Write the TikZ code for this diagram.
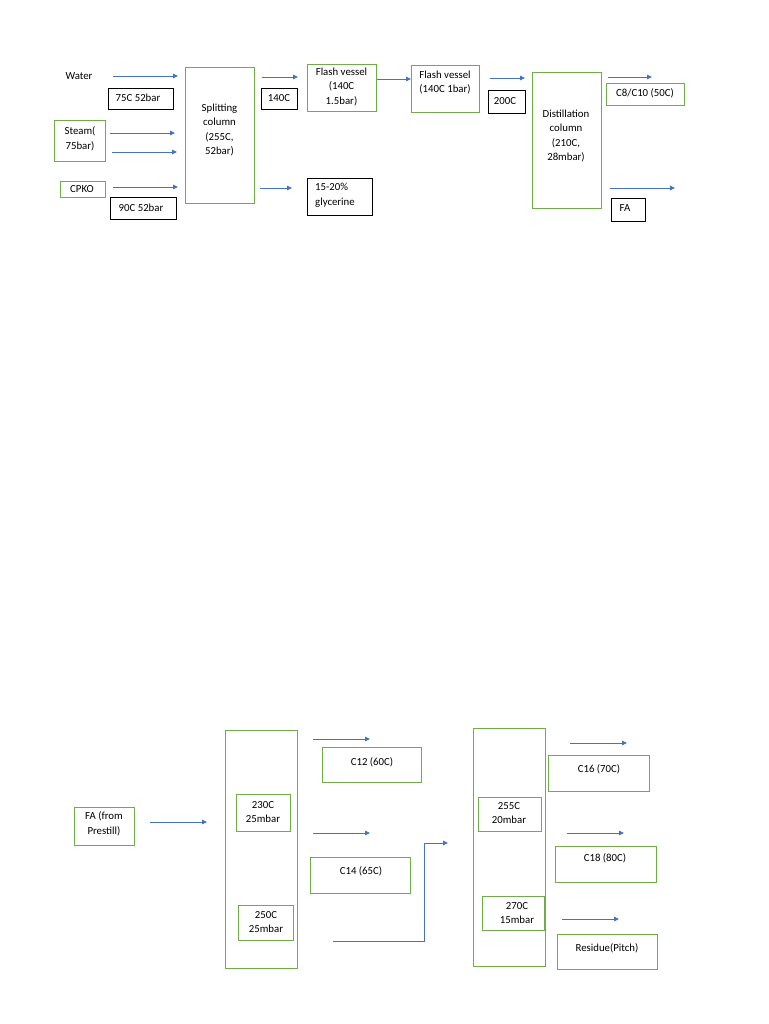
\documentclass[tikz,border=0pt]{standalone}
\usepackage{fontspec}
\setmainfont{Carlito}
\usetikzlibrary{arrows.meta}
\definecolor{boxgreen}{HTML}{70AD47}
\definecolor{arrblue}{HTML}{4472C4}
\begin{document}
\begin{tikzpicture}[x=1pt,y=-1pt,
  gbox/.style={draw=boxgreen,line width=1.1pt,anchor=north west,inner sep=0pt},
  bbox/.style={draw=black,line width=1.1pt,anchor=north west,inner sep=0pt},
  txt/.style={font=\fontsize{10.8}{14.5}\selectfont,align=center,inner sep=0pt},
  arr/.style={draw=arrblue,line width=0.9pt,-{Triangle[length=5pt,width=4.5pt]}},
  flow/.style={draw=arrblue,line width=0.9pt}]
\useasboundingbox (0,0) rectangle (768,1024);
% ---------- top: boxes ----------
\node[bbox,minimum width=65pt,minimum height=21pt] (b75) at (108,88) {};
\node[gbox,minimum width=51pt,minimum height=41pt] (steam) at (54,120) {};
\node[gbox,minimum width=45pt,minimum height=16pt] (cpko) at (60,181) {};
\node[bbox,minimum width=66pt,minimum height=22pt] (b90) at (110,197) {};
\node[gbox,minimum width=69pt,minimum height=136pt] (split) at (185,67) {};
\node[bbox,minimum width=36pt,minimum height=21pt] (b140) at (261,88) {};
\node[bbox,minimum width=65pt,minimum height=37pt] (glyc) at (307,178) {};
\node[gbox,minimum width=69pt,minimum height=47pt] (fv1) at (307,64) {};
\node[gbox,minimum width=68pt,minimum height=47pt] (fv2) at (411,65) {};
\node[bbox,minimum width=37pt,minimum height=23pt] (b200) at (488,90) {};
\node[gbox,minimum width=69pt,minimum height=136pt] (dist) at (532,72) {};
\node[gbox,minimum width=78pt,minimum height=22pt] (c810) at (606,83) {};
\node[bbox,minimum width=34pt,minimum height=23pt] (fa) at (611,198) {};
% ---------- top: texts ----------
\node[txt] (t-water) at (79,76) {Water};
\node[txt] (t-b75) at (138,98) {75C 52bar};
\node[txt] (t-steam) at (80,139) {Steam(\\75bar)};
\node[txt] (t-cpko) at (82,189) {CPKO};
\node[txt] (t-b90) at (141,208) {90C 52bar};
\node[txt] (t-split) at (219.5,130) {Splitting\\column\\(255C,\\52bar)};
\node[txt] (t-b140) at (279,98) {140C};
\node[txt,align=left,anchor=west] (t-glyc) at (315,195) {15-20\%\\glycerine};
\node[txt] (t-fv1) at (341.5,87) {Flash vessel\\(140C\\1.5bar)};
\node[txt] (t-fv2) at (445,82.5) {Flash vessel\\(140C 1bar)};
\node[txt] (t-b200) at (505,101) {200C};
\node[txt] (t-dist) at (566,136) {Distillation\\column\\(210C,\\28mbar)};
\node[txt] (t-c810) at (645,93) {C8/C10 (50C)};
\node[txt] (t-fa) at (625,208) {FA};
% ---------- top: arrows ----------
\coordinate (w1) at (113,76); \coordinate (w2) at (178,76);
\coordinate (s1) at (110,133); \coordinate (s2) at (175,133);
\coordinate (s3) at (112,152); \coordinate (s4) at (177,152);
\coordinate (k1) at (113,187); \coordinate (k2) at (178,187);
\coordinate (o1) at (262,77); \coordinate (o2) at (298,77);
\coordinate (g1) at (260,188); \coordinate (g2) at (292,188);
\coordinate (f1) at (490,78); \coordinate (f2) at (525,78);
\coordinate (d1) at (608,77); \coordinate (d2) at (652,77);
\coordinate (d3) at (610,188); \coordinate (d4) at (675,188);
\draw[arr] (w1) -- (w2);
\draw[arr] (s1) -- (s2);
\draw[arr] (s3) -- (s4);
\draw[arr] (k1) -- (k2);
\draw[arr] (o1) -- (o2);
\draw[arr] (g1) -- (g2);
\draw[arr] (fv1.east |- 0,79) -- (fv2.west |- 0,79);
\draw[arr] (f1) -- (f2);
\draw[arr] (d1) -- (d2);
\draw[arr] (d3) -- (d4);
% ---------- bottom: boxes ----------
\node[gbox,minimum width=60pt,minimum height=38pt] (prestill) at (74,807) {};
\node[gbox,minimum width=72pt,minimum height=238pt] (colA) at (225,730) {};
\node[gbox,minimum width=54pt,minimum height=37pt] (a230) at (236,794) {};
\node[gbox,minimum width=55pt,minimum height=35pt] (a250) at (238,905) {};
\node[gbox,minimum width=99pt,minimum height=35pt] (c12) at (322,747) {};
\node[gbox,minimum width=100pt,minimum height=36pt] (c14) at (310,857) {};
\node[gbox,minimum width=72pt,minimum height=238pt] (colB) at (473,728) {};
\node[gbox,minimum width=63pt,minimum height=34pt] (b255) at (478,797) {};
\node[gbox,minimum width=62pt,minimum height=34pt] (b270) at (482,896) {};
\node[gbox,minimum width=101pt,minimum height=36pt] (c16) at (548,755) {};
\node[gbox,minimum width=101pt,minimum height=36pt] (c18) at (555,846) {};
\node[gbox,minimum width=100pt,minimum height=35pt] (resid) at (557,934) {};
% ---------- bottom: texts ----------
\node[txt] (t-prestill) at (104,824) {FA (from\\Prestill)};
\node[txt] (t-a230) at (263,812) {230C\\25mbar};
\node[txt] (t-a250) at (266,922) {250C\\25mbar};
\node[txt] (t-c12) at (372,762) {C12 (60C)};
\node[txt] (t-c14) at (361,871) {C14 (65C)};
\node[txt] (t-b255) at (509,813) {255C\\20mbar};
\node[txt] (t-b270) at (517,913) {270C\\15mbar};
\node[txt] (t-c16) at (599,769) {C16 (70C)};
\node[txt] (t-c18) at (605,858) {C18 (80C)};
\node[txt] (t-resid) at (607,948) {Residue(Pitch)};
% ---------- bottom: arrows ----------
\coordinate (p1) at (150,822); \coordinate (p2) at (207,822);
\coordinate (m1) at (313,739); \coordinate (m2) at (370,739);
\coordinate (m3) at (313,833); \coordinate (m4) at (370,833);
\coordinate (e1) at (333,941); \coordinate (e2) at (424,941);
\coordinate (e3) at (424,843); \coordinate (e4) at (448,843);
\coordinate (n1) at (570,743); \coordinate (n2) at (627,743);
\coordinate (n3) at (567,833); \coordinate (n4) at (624,833);
\coordinate (n5) at (562,919); \coordinate (n6) at (619,919);
\draw[arr] (p1) -- (p2);
\draw[arr] (m1) -- (m2);
\draw[arr] (m3) -- (m4);
\draw[arr] (e1) -- (e2) -- (e3) -- (e4);
\draw[arr] (n1) -- (n2);
\draw[arr] (n3) -- (n4);
\draw[arr] (n5) -- (n6);
\end{tikzpicture}
\end{document}
